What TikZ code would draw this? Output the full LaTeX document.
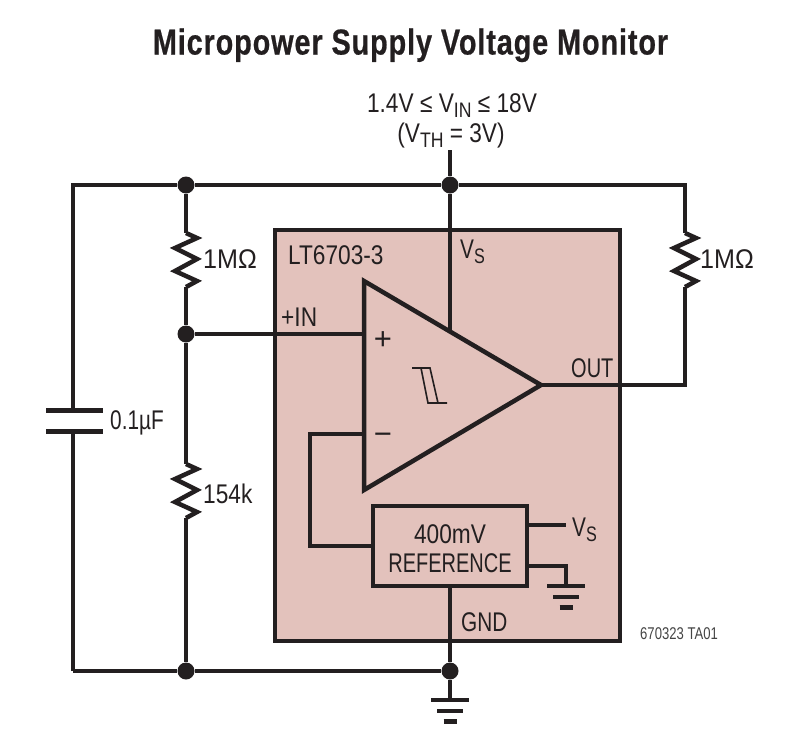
\documentclass[tikz,border=0pt]{standalone}
\usepackage{fontspec}
\setmainfont{Liberation Sans}[FakeStretch=0.77]
\newfontfamily\titlefont{Liberation Sans}[FakeStretch=0.8, LetterSpace=2.5, FakeBold=0.6]
\newfontfamily\midfont{Liberation Sans}[FakeStretch=0.84]
\newfontfamily\widefont{Liberation Sans}[FakeStretch=0.93]
\newfontfamily\signfont{Liberation Sans}
\newfontfamily\tightfont{Liberation Sans}[FakeStretch=0.74]
\usepackage{tikz}
\usetikzlibrary{positioning}
\definecolor{inkc}{HTML}{231F20}
\definecolor{chipc}{HTML}{E3C2BC}
\definecolor{tagc}{HTML}{444444}
\newcommand{\subtxt}[1]{\raisebox{-5pt}{\fontsize{21}{21}\selectfont #1}}
\tikzset{
    wire/.style={draw=inkc, line width=4.5pt},
    thinline/.style={draw=inkc, line width=1.6pt},
    dot/.style={circle, fill=inkc, inner sep=0pt, minimum size=17pt},
    lab/.style={inner sep=0pt, text=inkc, font=\fontsize{27}{29}\selectfont, anchor=base west},
    midlab/.style={lab, font=\midfont\fontsize{27}{29}\selectfont},
    chipbox/.style={draw=inkc, line width=4.5pt, fill=chipc, minimum width=345pt, minimum height=411pt, inner sep=0pt},
    refbox/.style={draw=inkc, line width=4.5pt, fill=chipc, minimum width=154pt, minimum height=80pt, inner sep=0pt, align=center, text=inkc, font=\fontsize{27}{29}\selectfont},
    zigzag/.pic={
        \coordinate (-top) at (0,0);
        \coordinate (-bot) at (0,54);
        \draw[wire, line join=miter] (0,0) -- (11,5) -- (-11,15) -- (11,26) -- (-11,38) -- (11,48) -- (0,54);
    },
    earth/.pic={
        \coordinate (-top) at (0,0);
        \draw[inkc, line width=4.5pt] (-19,0) -- (19,0) (-13,11) -- (13,11);
        \draw[inkc, line width=5pt] (-6.5,21) -- (6.5,21);
    }
}
\begin{document}
\begin{tikzpicture}[x=1pt, y=-1pt]
    \useasboundingbox (0,0) rectangle (799,740);
    % Title and supply
    \node[lab, anchor=base, font=\titlefont\bfseries\fontsize{36}{38}\selectfont] (title) at (410.5,54.5) {Micropower Supply Voltage Monitor};
    \node[midlab, anchor=base] (vin) at (452,112.5) {1.4V ≤ V\subtxt{IN} ≤ 18V};
    \node[midlab, anchor=base] (vth) at (451,142.5) {(V\subtxt{TH} = 3V)};

    % Chip
    \node[chipbox] (chip) at (447.5,435.5) {};

    % Junctions
    \coordinate (in) at (450,150);
    \coordinate (cornerTL) at (73,185);
    \coordinate (cornerTR) at (685,185);
    \coordinate (cornerBL) at (73,671);
    \coordinate (cornerOut) at (685,385);
    \node[dot] (jTop) at (186,185) {};
    \node[dot] (jIn) at (450,185) {};
    \node[dot] (jMid) at (186,334) {};
    \node[dot] (jBot) at (186,671) {};
    \node[dot] (jGnd) at (450,671) {};

    % Resistors
    \pic (Ra) at (186,233) {zigzag};
    \pic (Rb) at (186,464) {zigzag};
    \pic (Rc) at (685,233) {zigzag};

    % Capacitor
    \coordinate (capA) at (73,410);
    \coordinate (capB) at (73,431);
    \draw[wire, line width=5pt] (46,410) -- (103,410) (46,431) -- (103,431);

    % Comparator
    \coordinate (ampTop) at (364,281);
    \coordinate (ampBot) at (364,490);
    \coordinate (ampOut) at (541,385);
    \coordinate (ampVs) at (450,331);
    \coordinate (ampP) at (364,334);
    \coordinate (ampN) at (364,434);
    \coordinate (bend) at (310,434);
    \draw[wire, line join=miter] (ampTop) -- (ampOut) -- (ampBot) -- cycle;
    \draw[thinline] (412,368) -- (430,368) -- (438,403) -- (447,403) (421,368) -- (428,403) -- (438,403);
    \node[lab, anchor=center, font=\signfont\fontsize{31}{31}\selectfont] (plus) at (383,341) {+};
    \node[lab, anchor=center, font=\signfont\fontsize{31}{31}\selectfont] (minus) at (383,439) {−};

    % Reference
    \node[refbox] (ref) at (450,546) {\rule{0pt}{24pt}\midfont 400mV\\\tightfont REFERENCE};
    \coordinate (vsEnd) at (566,525);
    \coordinate (gndA) at (566,566);
    \coordinate (gndB) at (566,586);
    \pic (earthA) at (gndB) {earth};
    \pic (earthB) at (450,700) {earth};

    % Wires
    \draw[wire] (in) -- (jIn);
    \draw[wire] (jIn) -- (ampVs);
    \draw[wire] (cornerBL) -- (capB);
    \draw[wire] (capA) -- (cornerTL) -- (jTop);
    \draw[wire] (jTop) -- (jIn);
    \draw[wire] (jIn) -- (cornerTR) -- (Rc-top);
    \draw[wire] (Rc-bot) -- (cornerOut) -- (ampOut);
    \draw[wire] (jTop) -- (Ra-top);
    \draw[wire] (Ra-bot) -- (jMid);
    \draw[wire] (jMid) -- (Rb-top);
    \draw[wire] (Rb-bot) -- (jBot);
    \draw[wire] (jMid) -- (ampP);
    \draw[wire] (ampN) -- (bend) |- (ref.west);
    \draw[wire] (ref.east |- vsEnd) -- (vsEnd);
    \draw[wire] (ref.east |- gndA) -- (gndA) -- (gndB);
    \draw[wire] (ref.south) -- (jGnd);
    \draw[wire] (jGnd) -- (earthB-top);
    \draw[wire] (cornerBL) -- (jBot);
    \draw[wire] (jBot) -- (jGnd);

    % Labels
    \node[midlab] (partno) at (288,264.5) {LT6703-3};
    \node[lab] (vsTop) at (460,258) {V\subtxt{S}};
    \node[midlab] (inLab) at (281,326) {+IN};
    \node[lab, font=\tightfont\fontsize{27}{29}\selectfont] (outLab) at (571,377) {OUT};
    \node[lab] (vsRef) at (572,536) {V\subtxt{S}};
    \node[lab] (gndLab) at (461,631) {GND};
    \node[lab, font=\widefont\fontsize{27}{29}\selectfont] (ra) at (203,268) {1MΩ};
    \node[lab, font=\widefont\fontsize{27}{29}\selectfont] (rc) at (700,268) {1MΩ};
    \node[midlab] (rb) at (203,503.5) {154k};
    \node[lab] (cap) at (110,429.5) {0.1µF};
    \node[lab, text=tagc, font=\fontsize{17}{17}\selectfont] (tag) at (640,639) {670323 TA01};
\end{tikzpicture}
\end{document}
